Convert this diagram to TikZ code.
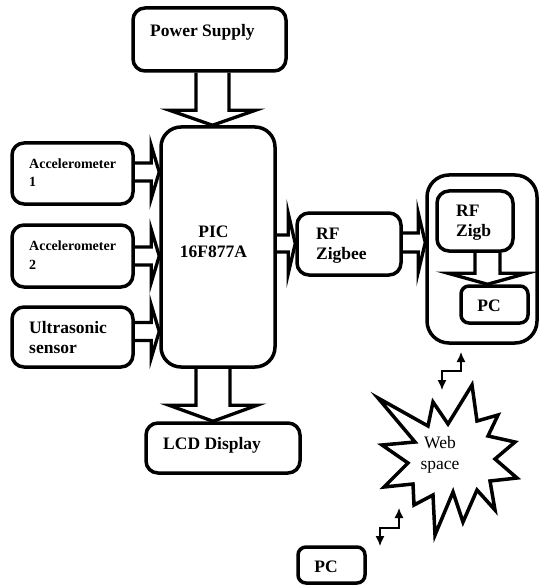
\documentclass[tikz,border=0pt]{standalone}
\usepackage{fontspec}
\setmainfont{Liberation Serif}
\usetikzlibrary{calc,arrows.meta}
\newcommand\hbarrow[6]{\draw[barrow] let \p1=(#1.east), \p2=(#2.west) in
 (\x1,{\y1+#3+#4}) -- ({\x2-#6},{\y1+#3+#4}) -- ({\x2-#6},{\y1+#3+#5}) -- (\x2,{\y1+#3}) -- ({\x2-#6},{\y1+#3-#5}) -- ({\x2-#6},{\y1+#3-#4}) -- (\x1,{\y1+#3-#4});}
\newcommand\vbarrow[6]{\draw[barrow] let \p1=(#1.south), \p2=(#2.north) in
 ({\x1+#3-#4},\y1) -- ({\x1+#3-#4},{\y2+#6}) -- ({\x1+#3-#5},{\y2+#6}) -- ({\x1+#3},\y2) -- ({\x1+#3+#5},{\y2+#6}) -- ({\x1+#3+#4},{\y2+#6}) -- ({\x1+#3+#4},\y1);}
\begin{document}
\begin{tikzpicture}[x=1pt,y=-1pt,
 box/.style={draw,line width=3.5pt,rounded corners=12pt,inner sep=0pt},
 lbl/.style={font=\fontsize{17.5}{20}\selectfont\bfseries,inner sep=0pt,align=left},
 small/.style={font=\fontsize{14}{18.5}\selectfont\bfseries,inner sep=0pt,align=left},
 barrow/.style={draw,line width=3.3pt,line join=miter},
 zz/.style={line width=1.3pt,{Latex[length=10pt,width=9pt]}-{Latex[length=10pt,width=9pt]}},
]
\useasboundingbox (0,0) rectangle (542,585);

% boxes
\node[box,minimum width=153pt,minimum height=63pt] (ps) at (209.5,39.5) {};
\node[lbl,anchor=west] (psT) at (150,32) {Power Supply};

\node[box,minimum width=121pt,minimum height=61pt] (acc1) at (72.5,173.5) {};
\node[small,anchor=west] (acc1T) at (29,172.5) {Accelerometer\\1};
\node[box,minimum width=121pt,minimum height=62pt] (acc2) at (72.5,256) {};
\node[small,anchor=west] (acc2T) at (29,255) {Accelerometer\\2};
\node[box,minimum width=121pt,minimum height=60pt] (ult) at (72.5,337) {};
\node[lbl,anchor=west] (ultT) at (29,338) {Ultrasonic\\sensor};

\node[box,rounded corners=20pt,minimum width=114pt,minimum height=240pt] (pic) at (218,247) {};
\node[lbl,align=center] (picT) at (213.5,242) {PIC\\16F877A};

\node[box,minimum width=104pt,minimum height=62pt] (rf) at (349,244) {};
\node[lbl,anchor=west] (rfT) at (316,246) {RF\\Zigbee};

\node[box,rounded corners=22pt,minimum width=110pt,minimum height=168pt] (outer) at (482,259) {};
\node[box,minimum width=76pt,minimum height=60pt] (zig) at (475,221) {};
\node[lbl,anchor=west] (zigT) at (456,223) {RF\\Zigb};
\node[box,rounded corners=8pt,minimum width=67pt,minimum height=37pt] (pc1) at (494.5,304.5) {};
\node[lbl] (pc1T) at (489,306) {PC};

\node[box,minimum width=154pt,minimum height=50pt] (lcd) at (223,448) {};
\node[lbl,anchor=west] (lcdT) at (163,445) {LCD Display};

\node[box,rounded corners=8pt,minimum width=67pt,minimum height=36pt] (pc2) at (331.5,565) {};
\node[lbl] (pc2T) at (326,567) {PC};

% block arrows
\vbarrow{ps}{pic}{3pt}{16.5pt}{43pt}{15pt}
\vbarrow{pic}{lcd}{-5pt}{17pt}{44pt}{16pt}
\vbarrow{zig}{pc1}{12.5pt}{12.5pt}{39.5pt}{11pt}
\hbarrow{acc1}{pic}{1.5pt}{9pt}{26.5pt}{8pt}
\hbarrow{acc2}{pic}{0pt}{9pt}{26.5pt}{8pt}
\hbarrow{ult}{pic}{5.5pt}{9pt}{26.5pt}{8pt}
\hbarrow{pic}{rf}{3.5pt}{8.5pt}{30pt}{7pt}
\hbarrow{rf}{outer}{1.5pt}{9.5pt}{29.5pt}{7pt}

% web space starburst
\draw[line width=3.5pt,line join=miter] (378,398) -- (428,426) -- (433,402) -- (448,424) -- (472,385) -- (477,421) -- (498,415) -- (488,436) -- (515,442) -- (495,459) -- (517,478) -- (490,481) -- (495,510) -- (477,490) -- (463,522) -- (453,492) -- (435,535) -- (433,495) -- (414,505) -- (413,484) -- (384,487) -- (408,463) -- (382,445) -- (415,442) -- cycle;
\node[font=\fontsize{17.5}{21}\selectfont,inner sep=0pt,align=center] (web) at (440,455) {Web\\space};

% zigzag links
\coordinate (u1) at (461,352);
\coordinate (u2) at (442,390);
\draw[zz] (u1) -- ++(0,19) -| (u2);
\coordinate (l1) at (399,508);
\coordinate (l2) at (380,546);
\draw[zz] (l1) -- ++(0,20) -| (l2);
\end{tikzpicture}
\end{document}
